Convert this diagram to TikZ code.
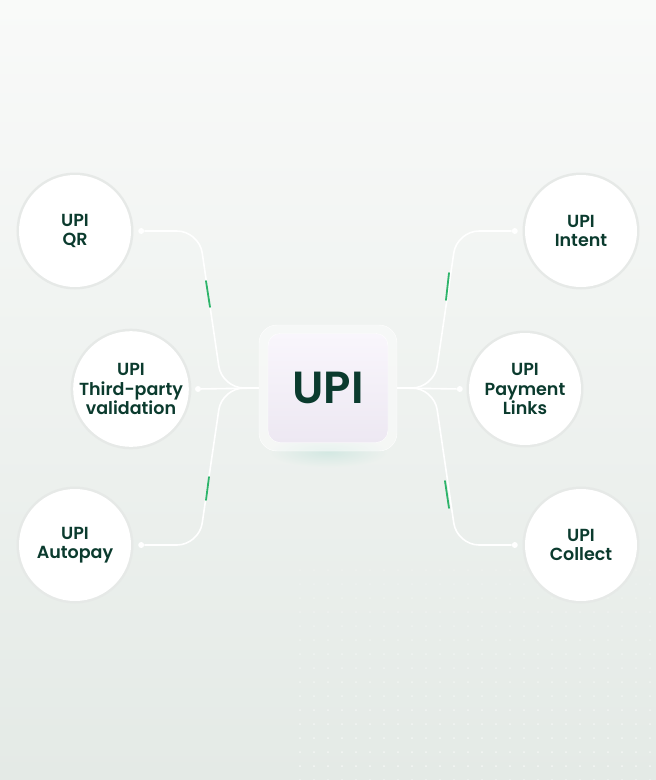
\documentclass[tikz,border=0pt]{standalone}
\usepackage{fontspec}
\setmainfont{Poppins}[BoldFont={Poppins SemiBold}]
\usepackage{tikz}
\usetikzlibrary{calc}
\definecolor{upigreen}{HTML}{0B3B2E}
\definecolor{glowgreen}{HTML}{2DB46A}
\definecolor{bgtop}{HTML}{F9FAF9}
\definecolor{bgbot}{HTML}{E4EAE6}
\definecolor{bgmid}{HTML}{EDF1EE}
\definecolor{ringgrey}{HTML}{E6E9E7}
\definecolor{boxtop}{HTML}{F9F6FC}
\definecolor{boxbot}{HTML}{EDE8F2}
\definecolor{boxglow}{HTML}{D3E8E2}
\begin{document}
\begin{tikzpicture}
      [x=1pt,y=-1pt,
      item/.style={circle,fill=white,minimum size=112pt,inner sep=0pt,text=upigreen,align=center,
        font=\fontsize{17.5}{19.5}\selectfont\bfseries,
        preaction={draw=ringgrey,line width=5pt}},
      dot/.style={circle,fill=white,minimum size=6pt,inner sep=0pt},
      link/.style={draw=white,line width=1.6pt,rounded corners=22pt},
      glow/.style={draw=glowgreen,line width=1.8pt,line cap=round},
      ]
      \useasboundingbox (0,0) rectangle (656,780);
      \shade[top color=bgtop,bottom color=bgbot] (0,0) rectangle (656,780);
      \foreach \i in {0,...,25} {
        \foreach \j in {0,...,15} {
          \fill[white,opacity={0.2+0.03*\j}] (300+14*\i,570+14*\j) circle (1pt);
        }
      }
      % centre box
      \shade[inner color=boxglow,outer color=bgmid] (328,452) ellipse (60pt and 16pt);
      \node[rounded corners=18pt,fill=white,fill opacity=0.45,draw=white,minimum width=138pt,minimum height=126pt] (frame) at (328,388) {};
      \node[rounded corners=12pt,top color=boxtop,bottom color=boxbot,draw=white,minimum width=120pt,minimum height=109pt,
        text=upigreen,font=\fontsize{45}{45}\selectfont\bfseries] (upi) at (328,388) {UPI};
      % circles
      \node[item] (qr) at (75,231) {UPI\\QR};
      \node[item] (third) at (131,389) {UPI\\Third-party\\validation};
      \node[item] (autopay) at (75,545) {UPI\\Autopay};
      \node[item] (intent) at (581,231) {UPI\\Intent};
      \node[item] (links) at (525,389) {UPI\\Payment\\Links};
      \node[item] (collect) at (581,545) {UPI\\Collect};
      \node[dot] (qrdot) at ([xshift=10pt]qr.east) {};
      \node[dot] (thirddot) at ([xshift=9pt]third.east) {};
      \node[dot] (autopaydot) at ([xshift=10pt]autopay.east) {};
      \node[dot] (intentdot) at ([xshift=-10pt]intent.west) {};
      \node[dot] (linksdot) at ([xshift=-9pt]links.west) {};
      \node[dot] (collectdot) at ([xshift=-10pt]collect.west) {};
      % connectors
      \draw[link] (qrdot) -- (199,0 |- qrdot) -- (222,0 |- frame) -- (frame.west);
      \draw[link] (thirddot) -- (frame.west);
      \draw[link] (autopaydot) -- (199,0 |- autopaydot) -- (222,0 |- frame) -- (frame.west);
      \draw[link] (intentdot) -- (457,0 |- intentdot) -- (434,0 |- frame) -- (frame.east);
      \draw[link] (linksdot) -- (frame.east);
      \draw[link] (collectdot) -- (457,0 |- collectdot) -- (434,0 |- frame) -- (frame.east);
      \draw[glow] (206,281) -- (210,307);
      \draw[glow] (206,500) -- (209,477);
      \draw[glow] (449,273) -- (446,300);
      \draw[glow] (445,481) -- (449,508);
      \end{tikzpicture}
\end{document}
